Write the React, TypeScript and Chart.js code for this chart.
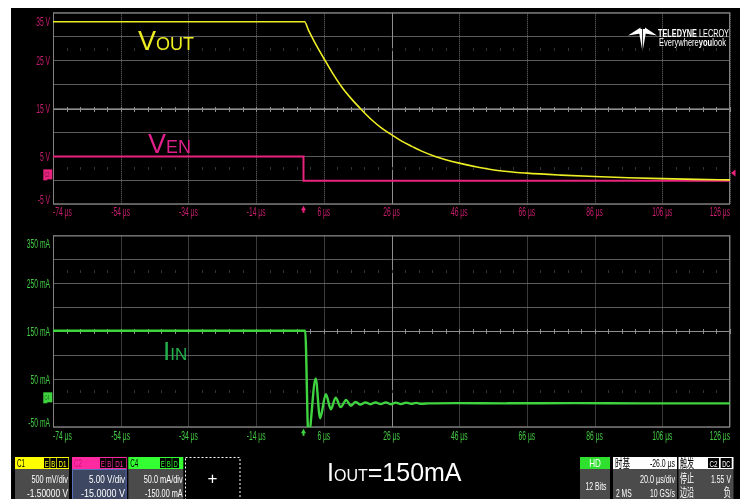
import React, { useEffect, useRef } from "react";
import { Chart, registerables } from "chart.js";

Chart.register(...registerables);

// ---------------- data ----------------
const timeTicks = [-74, -54, -34, -14, 6, 26, 46, 66, 86, 106, 126];
const timeLabels = ["-74 µs", "-54 µs", "-34 µs", "-14 µs", "6 µs", "26 µs", "46 µs", "66 µs", "86 µs", "106 µs", "126 µs"];

const voltGrid = [-5, 0, 5, 10, 15, 20, 25, 30, 35];
const voltLabelValues = [35, 25, 15, 5, -5];
const voltLabels = ["35 V", "25 V", "15 V", "5 V", "-5 V"];

const currentGrid = [-50, 0, 50, 100, 150, 200, 250, 300, 350];
const currentLabelValues = [350, 250, 150, 50, -50];
const currentLabels = ["350 mA", "250 mA", "150 mA", "50 mA", "-50 mA"];

// V_OUT (µs, V)
const voutTime = [-74, 0.3, 1.5, 3.4, 5.9, 8.4, 11.3, 14.3, 17.2, 20.2, 23.1, 26.1, 29.0, 32.0, 34.9, 38.9, 46, 52, 58, 66, 76, 86, 96, 106, 116, 126];
const voutVolts = [33.1, 33.1, 31.3, 28.7, 25.6, 22.6, 19.5, 16.9, 14.7, 12.6, 10.9, 9.5, 8.2, 7.1, 6.1, 5.0, 3.6, 2.7, 2.0, 1.5, 1.1, 0.8, 0.55, 0.35, 0.2, 0.1];

// V_EN (µs, V)
const venTime = [-74, 0, 0, 126];
const venVolts = [5, 5, -0.1, -0.1];

// I_IN (µs, mA)
const iinTime = [-74, -40, 0.5, 1.45, 3.6, 4.9, 6.6, 8.1, 9.5, 11.0, 12.6, 14.0, 15.4, 16.8, 18.3, 19.8, 21.3, 22.8, 24.3, 25.8, 27.3, 28.8, 30.3, 31.8, 33.3, 34.8, 37, 45, 60, 80, 100, 126];
const iinMilliamps = [151.5, 151.5, 151.5, -70, 52, -31, 19, -12.5, 11.7, -8, 7, -5, 3, -2.5, 2, -2, 2, -1.5, 2, -2, 1.5, -1.5, 1.5, -1, 1, -1, 0, 0.5, 0, 0.5, 0, 0];

const triggerLevelVolts = 1.55;

// ---------------- helpers ----------------
const FONT = '"Liberation Sans", Arial, sans-serif';
const CJK = '"Noto Sans CJK SC", "Liberation Sans", sans-serif';
const SX = 0.56;

const toPoints = (xs: number[], ys: number[]) => xs.map((x, i) => ({ x, y: ys[i] }));

function condText(ctx: CanvasRenderingContext2D, text: string, x: number, y: number, align: CanvasTextAlign) {
  ctx.save();
  ctx.translate(x, y);
  ctx.scale(SX, 1);
  ctx.textAlign = align;
  ctx.textBaseline = "alphabetic";
  ctx.fillText(text, 0, 0);
  ctx.restore();
}

type PanelProps = {
  top: number;
  height: number;
  padTop: number;
  axisHeight: number;
  yMin: number;
  yMax: number;
  yGrid: number[];
  yLabelValues: number[];
  yLabels: string[];
  labelColor: string;
  markerColor: string;
  centerValue: number;
  triggerLevel?: number;
  groundLabel: string;
  xLabelBase: number;
  topLabelBase: number;
  datasets: any[];
};

function makeScopePlugin(p: PanelProps) {
  return {
    id: "scopeDecor",
    beforeDatasetsDraw(chart: any) {
      const { ctx, chartArea: a } = chart;
      const xs = chart.scales.x;
      const ys = chart.scales.y;
      ctx.save();
      ctx.lineWidth = 1;
      // dotted vertical divisions
      ctx.strokeStyle = "#747474";
      ctx.setLineDash([1, 1]);
      for (const v of timeTicks) {
        const px = Math.round(xs.getPixelForValue(v)) + 0.5;
        ctx.beginPath();
        ctx.moveTo(px, a.top);
        ctx.lineTo(px, a.bottom);
        ctx.stroke();
      }
      ctx.setLineDash([]);
      // centre cross
      const cx = Math.round(xs.getPixelForValue(26)) + 0.5;
      const cy = Math.round(ys.getPixelForValue(p.centerValue)) + 0.5;
      ctx.strokeStyle = "#8e8e8e";
      ctx.beginPath();
      ctx.moveTo(cx, a.top);
      ctx.lineTo(cx, a.bottom);
      ctx.moveTo(a.left, cy);
      ctx.lineTo(a.right, cy);
      ctx.stroke();
      // sub-division ticks
      const div = (p.yMax - p.yMin) / 8;
      const rows = [
        { v: p.centerValue, c: "#8e8e8e", h: 2.5 },
        { v: p.centerValue + 2.5 * div, c: "#333333", h: 1.5 },
        { v: p.centerValue - 2.5 * div, c: "#333333", h: 1.5 },
      ];
      for (const r of rows) {
        const ry = Math.round(ys.getPixelForValue(r.v)) + 0.5;
        ctx.strokeStyle = r.c;
        ctx.beginPath();
        for (let t = -74; t <= 126; t += 4) {
          const px = Math.round(xs.getPixelForValue(t)) + 0.5;
          ctx.moveTo(px, ry - r.h);
          ctx.lineTo(px, ry + r.h);
        }
        ctx.stroke();
      }
      // frame
      ctx.strokeStyle = "#808080";
      ctx.strokeRect(a.left + 0.5, a.top + 0.5, a.width - 1, a.height - 1);
      ctx.restore();
    },
    afterDraw(chart: any) {
      const { ctx, chartArea: a } = chart;
      const xs = chart.scales.x;
      const ys = chart.scales.y;
      ctx.save();
      ctx.font = `12px ${FONT}`;
      ctx.fillStyle = p.labelColor;
      timeTicks.forEach((v, i) => {
        const w = ctx.measureText(timeLabels[i]).width * SX;
        let left = xs.getPixelForValue(v) - w / 2;
        left = Math.max(a.left, Math.min(a.right - w, left));
        condText(ctx, timeLabels[i], left, a.bottom + p.xLabelBase, "left");
      });
      p.yLabelValues.forEach((v, i) => {
        let base = ys.getPixelForValue(v) + 4.3;
        if (i === 0) base = a.top + p.topLabelBase;
        if (i === p.yLabelValues.length - 1) base = a.bottom - 0.5;
        condText(ctx, p.yLabels[i], a.left - 3, base, "right");
      });
      // trigger position marker
      ctx.fillStyle = p.markerColor;
      const tx = xs.getPixelForValue(0);
      ctx.beginPath();
      ctx.moveTo(tx, a.bottom + 1.5);
      ctx.lineTo(tx + 2.5, a.bottom + 6);
      ctx.lineTo(tx - 2.5, a.bottom + 6);
      ctx.closePath();
      ctx.fill();
      ctx.fillRect(tx - 1, a.bottom + 5, 2, 3.5);
      // trigger level marker
      if (p.triggerLevel !== undefined) {
        const ty = ys.getPixelForValue(p.triggerLevel);
        ctx.beginPath();
        ctx.moveTo(a.right + 1, ty);
        ctx.lineTo(a.right + 5.5, ty - 3.5);
        ctx.lineTo(a.right + 5.5, ty + 3.5);
        ctx.closePath();
        ctx.fill();
      }
      // ground marker
      const gy = ys.getPixelForValue(0);
      ctx.fillRect(a.left - 9.7, gy - 11, 9, 10);
      ctx.fillRect(a.left - 9.7, gy - 1.5, 4, 1.5);
      ctx.fillStyle = "rgba(0,0,0,0.55)";
      ctx.font = `7px ${FONT}`;
      condText(ctx, p.groundLabel, a.left - 8.5, gy - 3.5, "left");
      ctx.restore();
    },
  };
}

function ScopePanel(p: PanelProps) {
  const ref = useRef<HTMLCanvasElement>(null);
  useEffect(() => {
    const chart = new Chart(ref.current as HTMLCanvasElement, {
      type: "line",
      data: { datasets: p.datasets },
      options: {
        animation: false,
        responsive: false,
        maintainAspectRatio: false,
        devicePixelRatio: 1,
        events: [],
        layout: { padding: { top: p.padTop, right: 10, left: 0, bottom: 0 } },
        plugins: { legend: { display: false }, tooltip: { enabled: false } },
        elements: { point: { radius: 0 } },
        scales: {
          x: {
            type: "linear",
            min: -74,
            max: 126,
            afterBuildTicks: (s: any) => {
              s.ticks = timeTicks.map((v) => ({ value: v }));
            },
            afterFit: (s: any) => {
              s.height = p.axisHeight;
            },
            ticks: { display: false },
            grid: { display: false },
            border: { display: false },
          },
          y: {
            type: "linear",
            min: p.yMin,
            max: p.yMax,
            afterBuildTicks: (s: any) => {
              s.ticks = p.yGrid.map((v) => ({ value: v }));
            },
            afterFit: (s: any) => {
              s.width = 42;
            },
            ticks: { display: false },
            grid: { color: "#5a5a5a", lineWidth: 1, drawTicks: false },
            border: { display: false },
          },
        },
      } as any,
      plugins: [makeScopePlugin(p) as any],
    });
    return () => chart.destroy();
  }, []);
  return (
    <canvas
      ref={ref}
      width={729}
      height={p.height}
      style={{ position: "absolute", left: 11, top: p.top, width: 729, height: p.height }}
    />
  );
}

function CT(props: {
  x: number;
  y: number;
  w: number;
  anchor?: "start" | "middle" | "end";
  size?: number;
  fill?: string;
  weight?: number;
  family?: string;
  children: React.ReactNode;
}) {
  const { x, y, w, anchor = "start", size = 11.5, fill = "#ffffff", weight = 400, family = FONT, children } = props;
  const x0 = anchor === "end" ? x - w : anchor === "middle" ? x - w / 2 : x;
  return (
    <text x={x0} y={y} textLength={w} lengthAdjust="spacingAndGlyphs" fontSize={size} fill={fill} fontWeight={weight} fontFamily={family}>
      {children}
    </text>
  );
}

function Tag(props: { x: number; w: number; label: string; color: string; bg?: string }) {
  const { x, w, label, color, bg = "#000" } = props;
  return (
    <g>
      <rect x={x} y={458} width={w} height={10} fill={bg} />
      <CT x={x + w / 2} y={466.5} w={Math.min(w - 1.5, label.length * 4)} anchor="middle" size={9.5} fill={color}>
        {label}
      </CT>
    </g>
  );
}

function Overlay() {
  const grey = "#4b4b4b";
  return (
    <svg width={742} height={499} style={{ position: "absolute", left: 0, top: 0, pointerEvents: "none" }}>
      {/* trace labels */}
      <text x={138} y={50} fill="#eded22" fontFamily={FONT}>
        <tspan fontSize={27}>V</tspan>
        <tspan fontSize={18}>OUT</tspan>
      </text>
      <text x={148} y={153} fill="#e0208a" fontFamily={FONT}>
        <tspan fontSize={27}>V</tspan>
        <tspan fontSize={18}>EN</tspan>
      </text>
      <text x={163} y={360} fill="#22b04e" fontFamily={FONT}>
        <tspan fontSize={26}>I</tspan>
        <tspan fontSize={17}>IN</tspan>
      </text>

      {/* logo */}
      <g fill="#ffffff">
        <polygon points="628,35.5 640.5,27.5 640.5,33.5" />
        <polygon points="657,35.5 645,27.5 645,33.5" />
        <polygon points="638.5,29 646.5,29 642.5,52" />
        <line x1={642.5} y1={29} x2={642.5} y2={52} stroke="#000" strokeWidth={0.8} />
      </g>
      <text x={658} y={36.5} fontSize={11.5} fill="#fff" fontFamily={FONT} textLength={71} lengthAdjust="spacingAndGlyphs">
        <tspan fontWeight={700}>TELEDYNE</tspan>
        <tspan> LECROY</tspan>
      </text>
      <text x={659} y={45.5} fontSize={10} fill="#fff" fontFamily={FONT} textLength={67} lengthAdjust="spacingAndGlyphs">
        <tspan>Everywhere</tspan>
        <tspan fontWeight={700}>you</tspan>
        <tspan>look</tspan>
      </text>

      {/* C1 */}
      <rect x={15} y={457} width={54} height={12} fill="#ffff00" />
      <CT x={17} y={467} w={8} size={11} fill="#000">C1</CT>
      <Tag x={44} w={5.5} label="E" color="#ffff00" />
      <Tag x={50.3} w={5.7} label="B" color="#ffff00" />
      <Tag x={56.7} w={11.6} label="D1" color="#ffff00" />
      <rect x={15} y={469} width={54} height={30} fill={grey} />
      <CT x={68} y={483} w={36.6} anchor="end">500 mV/div</CT>
      <CT x={68} y={497} w={41} anchor="end">-1.50000 V</CT>

      {/* C2 */}
      <rect x={72} y={457} width={54.7} height={12} fill="#ff2aa0" />
      <CT x={74} y={467} w={8} size={11} fill="#c8107a">C2</CT>
      <Tag x={100} w={5.7} label="E" color="#ff2aa0" />
      <Tag x={106} w={6.3} label="B" color="#ff2aa0" />
      <Tag x={112.7} w={13.3} label="D1" color="#ff2aa0" />
      <rect x={72.5} y={469.5} width={53.7} height={30} fill="#3d4762" stroke="#5a6fb8" strokeWidth={1} />
      <CT x={125} y={483} w={36} anchor="end">5.00 V/div</CT>
      <CT x={125} y={497} w={44} anchor="end">-15.0000 V</CT>

      {/* C4 */}
      <rect x={128.3} y={457} width={55} height={12} fill="#33ff33" />
      <CT x={130.3} y={467} w={8} size={11} fill="#000">C4</CT>
      <Tag x={160} w={5.7} label="E" color="#33ff33" />
      <Tag x={166} w={5.7} label="B" color="#33ff33" />
      <Tag x={172.3} w={6.7} label="D" color="#33ff33" />
      <rect x={128.3} y={469} width={55} height={30} fill={grey} />
      <CT x={182.7} y={483} w={39} anchor="end">50.0 mA/div</CT>
      <CT x={182.7} y={497} w={37.7} anchor="end">-150.00 mA</CT>

      {/* add box */}
      <rect x={185.5} y={457.5} width={54.5} height={43} fill="none" stroke="#ffffff" strokeDasharray="2 2" strokeWidth={1} />
      <text x={212.5} y={484} fontSize={17} fill="#fff" textAnchor="middle" fontFamily={FONT}>+</text>

      {/* IOUT */}
      <text x={327} y={481} fill="#ffffff" fontFamily={FONT}>
        <tspan fontSize={25}>I</tspan>
        <tspan fontSize={16}>OUT</tspan>
        <tspan fontSize={25}>=150mA</tspan>
      </text>

      {/* HD */}
      <rect x={580} y={457} width={30} height={12} fill="#2fe02f" />
      <CT x={595} y={467} w={11.7} anchor="middle" fill="#ffffff">HD</CT>
      <rect x={580} y={469} width={30} height={30} fill={grey} />
      <CT x={596} y={490} w={21} anchor="middle">12 Bits</CT>

      {/* timebase */}
      <rect x={613} y={457} width={64} height={12} fill="#ffffff" />
      <CT x={615} y={467.5} w={15} size={12} fill="#000" family={CJK}>时基</CT>
      <CT x={675} y={467} w={25} anchor="end" fill="#000">-26.0 µs</CT>
      <rect x={613} y={469} width={64} height={30} fill={grey} />
      <CT x={675} y={483} w={35} anchor="end">20.0 µs/div</CT>
      <CT x={616} y={497} w={15.7}>2 MS</CT>
      <CT x={675} y={497} w={25} anchor="end">10 GS/s</CT>

      {/* trigger */}
      <rect x={678.5} y={457} width={55} height={12} fill="#ffffff" />
      <CT x={680} y={467.5} w={14} size={12} fill="#000" family={CJK}>触发</CT>
      <Tag x={708} w={11} label="C2" color="#ffffff" />
      <Tag x={720.7} w={11} label="DC" color="#ffffff" />
      <rect x={678.5} y={469} width={55} height={30} fill={grey} />
      <CT x={680} y={483} w={14} size={12} family={CJK}>停止</CT>
      <CT x={731} y={483} w={20} anchor="end">1.55 V</CT>
      <CT x={680} y={497} w={14} size={12} family={CJK}>边沿</CT>
      <CT x={731} y={497} w={7.5} anchor="end" size={12} family={CJK}>负</CT>
    </svg>
  );
}

export default function App() {
  const topDatasets = [
    {
      data: toPoints(voutTime, voutVolts),
      borderColor: "#eeee24",
      borderWidth: 1.6,
      cubicInterpolationMode: "monotone",
      pointRadius: 0,
    },
    {
      data: toPoints(venTime, venVolts),
      borderColor: "#e8237d",
      borderWidth: 2,
      tension: 0,
      pointRadius: 0,
    },
  ];
  const bottomDatasets = [
    {
      data: toPoints(iinTime, iinMilliamps),
      borderColor: "#3fd43f",
      borderWidth: 2.4,
      cubicInterpolationMode: "monotone",
      pointRadius: 0,
    },
  ];
  return (
    <div style={{ position: "absolute", left: 0, top: 0, width: 742, height: 499, background: "#ffffff", overflow: "hidden" }}>
      <div style={{ position: "absolute", left: 11, top: 8, width: 729, height: 491, background: "#000000" }} />
      <ScopePanel
        top={8}
        height={217}
        padTop={4.7}
        axisHeight={20.7}
        yMin={-5}
        yMax={35}
        yGrid={voltGrid}
        yLabelValues={voltLabelValues}
        yLabels={voltLabels}
        labelColor="#c81e6e"
        markerColor="#e8237d"
        centerValue={15}
        triggerLevel={triggerLevelVolts}
        groundLabel="C2"
        xLabelBase={12}
        topLabelBase={13.2}
        datasets={topDatasets}
      />
      <ScopePanel
        top={225}
        height={231}
        padTop={10.5}
        axisHeight={28.7}
        yMin={-50}
        yMax={350}
        yGrid={currentGrid}
        yLabelValues={currentLabelValues}
        yLabels={currentLabels}
        labelColor="#44cc44"
        markerColor="#3fd43f"
        centerValue={150}
        groundLabel="C4"
        xLabelBase={13}
        topLabelBase={12.1}
        datasets={bottomDatasets}
      />
      <Overlay />
    </div>
  );
}
